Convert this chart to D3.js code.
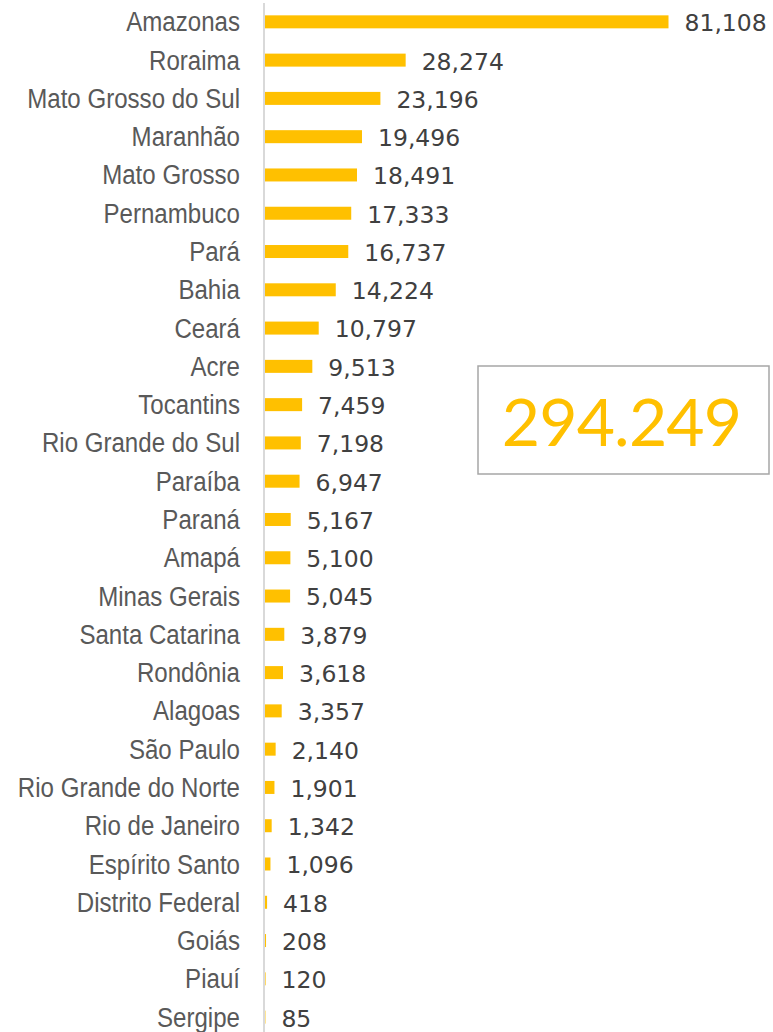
<!DOCTYPE html>
<html>
<head>
<meta charset="utf-8">
<script src="https://cdn.jsdelivr.net/npm/d3@7"></script>
<style>
  html, body { margin: 0; padding: 0; background: #ffffff; }
  svg { display: block; }
</style>
</head>
<body>
<script>
const states = ["Amazonas","Roraima","Mato Grosso do Sul","Maranhão","Mato Grosso","Pernambuco","Pará","Bahia","Ceará","Acre","Tocantins","Rio Grande do Sul","Paraíba","Paraná","Amapá","Minas Gerais","Santa Catarina","Rondônia","Alagoas","São Paulo","Rio Grande do Norte","Rio de Janeiro","Espírito Santo","Distrito Federal","Goiás","Piauí","Sergipe"];
const values = [81108,28274,23196,19496,18491,17333,16737,14224,10797,9513,7459,7198,6947,5167,5100,5045,3879,3618,3357,2140,1901,1342,1096,418,208,120,85];
const totalLabel = "294.249";

const W = 773, H = 1032;
const svg = d3.select("body").append("svg").attr("width", W).attr("height", H);

const data = states.map((s, i) => ({ state: s, value: values[i] }));

const x = d3.scaleLinear().domain([0, 81108]).range([265, 668.5]);
const y = d3.scaleBand().domain(states).range([2.7, 2.7 + 27 * 38.28]).padding(0);
const barH = 13;

// axis line
svg.append("line")
  .attr("x1", 264).attr("x2", 264)
  .attr("y1", 3).attr("y2", H)
  .attr("stroke", "#d9d9d9").attr("stroke-width", 2);

// bars
svg.append("g").selectAll("rect").data(data).join("rect")
  .attr("x", x(0))
  .attr("y", d => y(d.state) + (y.bandwidth() - barH) / 2)
  .attr("width", d => Math.max(0, x(d.value) - x(0)))
  .attr("height", barH)
  .attr("fill", "#FFC000");

// category labels (condensed sans)
svg.append("g").selectAll("text").data(data).join("text")
  .attr("transform", d => `translate(240,${y(d.state) + y.bandwidth() / 2}) scale(0.86,1)`)
  .attr("dy", "0.34em")
  .attr("text-anchor", "end")
  .attr("font-family", "'Liberation Sans', Arial, sans-serif")
  .attr("font-size", 28)
  .attr("fill", "#595959")
  .text(d => d.state);

// value labels
const fmt = d3.format(",");
svg.append("g").selectAll("text").data(data).join("text")
  .attr("x", d => x(d.value) + 16)
  .attr("y", d => y(d.state) + y.bandwidth() / 2)
  .attr("dy", "0.4em")
  .attr("font-family", "'DejaVu Sans', Verdana, sans-serif")
  .attr("font-size", 23.5)
  .attr("fill", "#404040")
  .text(d => fmt(d.value));

// total box
svg.append("rect")
  .attr("x", 478).attr("y", 366)
  .attr("width", 291).attr("height", 108)
  .attr("fill", "#ffffff")
  .attr("stroke", "#a6a6a6").attr("stroke-width", 1.5);

svg.append("text")
  .attr("x", 478 + 291 / 2 - 2).attr("y", 446)
  .attr("text-anchor", "middle")
  .attr("font-family", "Lato, 'Open Sans', sans-serif")
  .attr("font-size", 66)
  .attr("letter-spacing", -0.8)
  .attr("fill", "#FFC000")
  .text(totalLabel);
</script>
</body>
</html>
